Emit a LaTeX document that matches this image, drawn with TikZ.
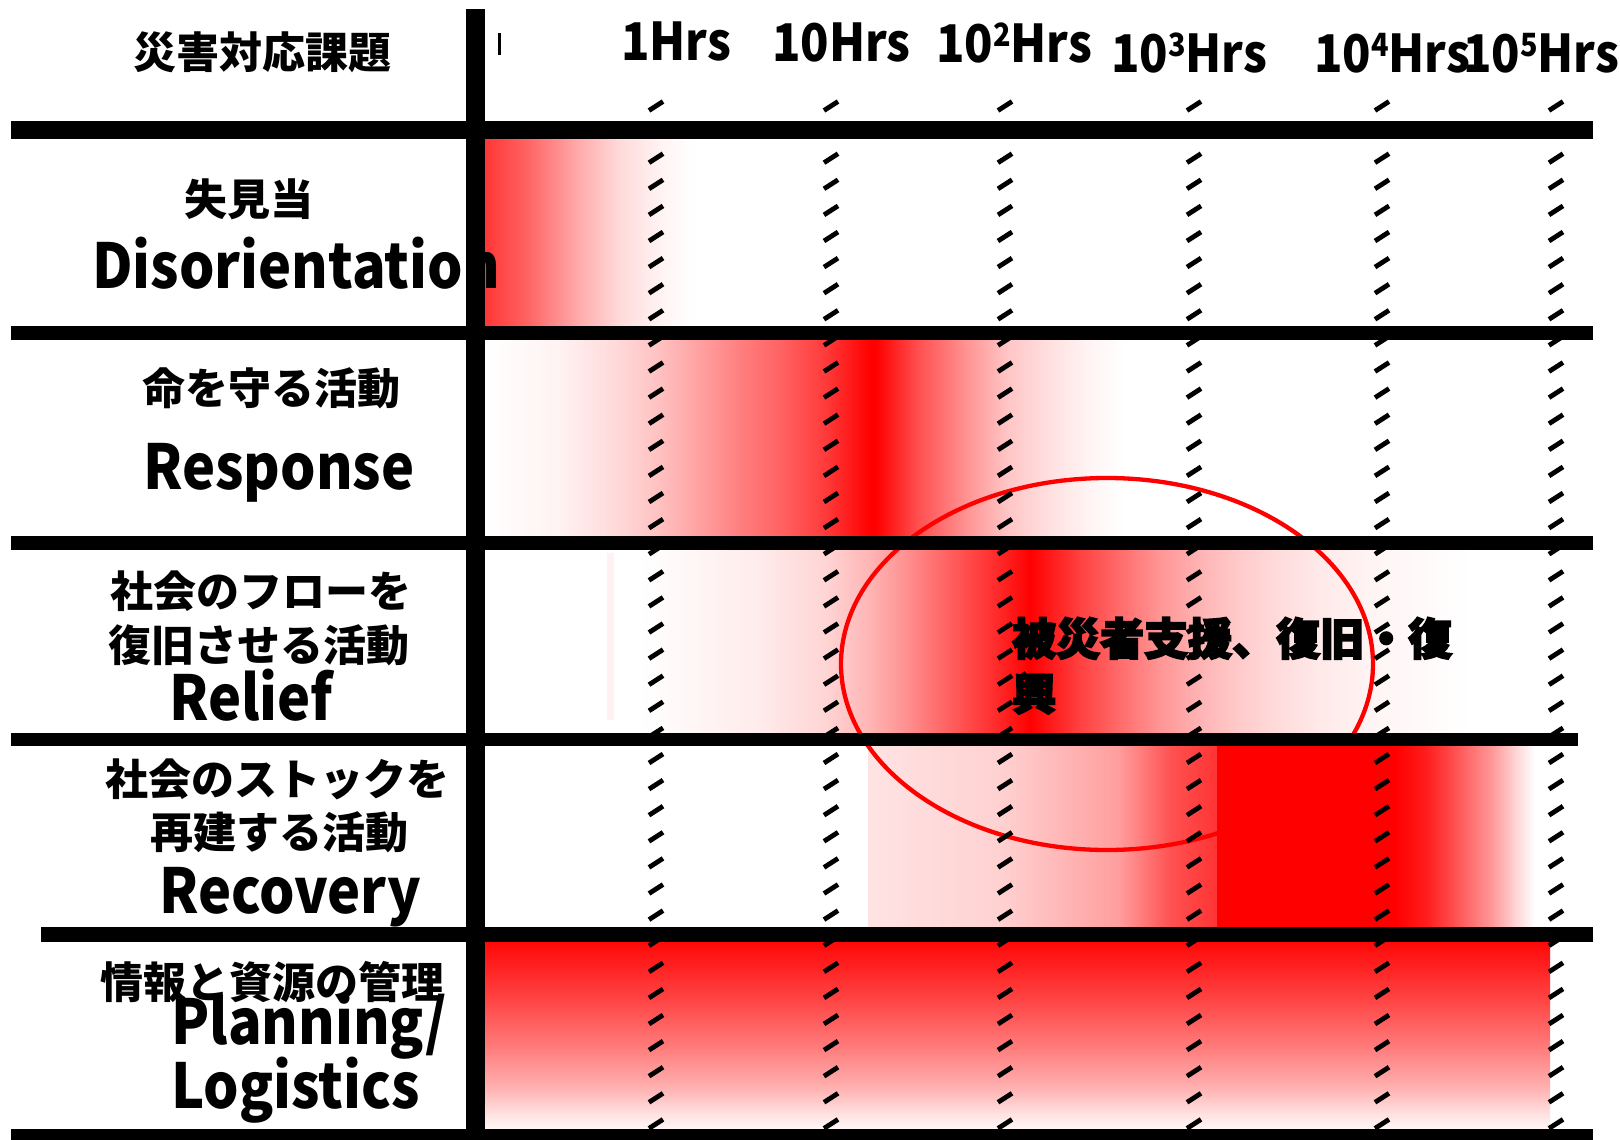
\documentclass[tikz,border=0pt]{standalone}
\usepackage{fontspec}
\setmainfont{Noto Sans CJK JP}
\newfontfamily\enfont{Noto Sans CJK JP}[FakeStretch=0.9]
\newfontfamily\heavyfont{Noto Sans CJK JP}[FakeBold=4]
\newcommand\hsup[1]{\raisebox{16pt}{\fontsize{32}{32}\selectfont #1}}
\begin{document}
\begin{tikzpicture}[x=1pt,y=-1pt,
  barfill/.style={fill=black},
  dashmark/.style={line width=4.8pt},
  jp/.style={inner sep=0pt, font=\bfseries\fontsize{43}{43}\selectfont},
  en/.style={inner sep=0pt, anchor=base west, font=\enfont\bfseries\fontsize{62}{62}\selectfont},
  hrs/.style={inner sep=0pt, anchor=base west, font=\enfont\bfseries\fontsize{52}{52}\selectfont},
  heavy/.style={inner sep=0pt, anchor=base west, font=\heavyfont\bfseries\fontsize{44}{44}\selectfont},
]
\useasboundingbox (0,0) rectangle (1620,1140);
\fill[white] (0,0) rectangle (1620,1140);

% row 1: Disorientation
\foreach \a/\b/\pa/\pb in {475/529/83/60, 529/574/60/35, 574/618/35/15, 618/663/15/4, 663/695/4/0}
  {\shade[left color=red!\pa!white, right color=red!\pb!white] (\a,130) rectangle (\b+0.6,333);}
% row 2: Response
\foreach \a/\b/\pa/\pb in {485/559/0/5, 559/617/5/15, 617/657/15/24, 657/693/24/35, 693/738/35/50, 738/782/50/62, 782/827/62/78, 827/858/78/94, 858/870/94/100, 870/876/100/100, 876/916/100/70, 916/961/70/45, 961/1006/45/23, 1006/1050/23/12, 1050/1090/12/4, 1090/1125/4/0}
  {\shade[left color=red!\pa!white, right color=red!\pb!white] (\a,333) rectangle (\b+0.6,543);}
% row 3: Relief
\fill[red!5] (607,553) rectangle (614,720);
\foreach \a/\b/\pa/\pb in {640/700/0/4, 700/760/4/8, 760/827/8/17, 827/872/17/30, 872/916/30/48, 916/961/48/68, 961/1006/68/88, 1006/1030/88/100, 1030/1079/100/75, 1079/1119/75/58, 1119/1158/58/42, 1158/1198/42/30, 1198/1237/30/21, 1237/1277/21/14, 1277/1316/14/9, 1316/1375/9/4, 1375/1470/4/0}
  {\shade[left color=red!\pa!white, right color=red!\pb!white] (\a,543) rectangle (\b+0.6,740);}
% row 4: Recovery (left part)
\foreach \a/\b/\pa/\pb in {868/1000/11/18, 1000/1118/18/38, 1118/1170/38/68, 1170/1217/68/80}
  {\shade[left color=red!\pa!white, right color=red!\pb!white] (\a,740) rectangle (\b+0.6,934);}
% row 5: Planning / Logistics
\foreach \a/\b/\pa/\pb in {934/1000/100/73, 1000/1050/73/50, 1050/1087/50/31, 1087/1113/31/12, 1113/1135/12/0}
  {\shade[top color=red!\pa!white, bottom color=red!\pb!white] (475,\a) rectangle (1550,\b+0.6);}

% ellipse
\draw[red, line width=4.3pt] (1107,664) ellipse [x radius=266pt, y radius=186pt];

% row 4: Recovery (solid block and fade)
\foreach \a/\b/\pa/\pb in {1217/1395/100/100, 1395/1427/100/88, 1427/1455/88/68, 1455/1494/68/38, 1494/1514/38/18, 1514/1534/18/0}
  {\shade[left color=red!\pa!white, right color=red!\pb!white] (\a,740) rectangle (\b+0.6,934);}

% dashed time lines
\foreach \cx in {656,831,1005,1194,1382,1556}{
  \foreach \k in {0,...,39}{
    \pgfmathsetmacro\cy{106+26.1*\k}
    \draw[dashmark] (\cx-7,\cy+4.5) -- (\cx+7,\cy-4.5);
  }
}

% grid bars
\fill[barfill] (11,121) rectangle (1593,139);
\fill[barfill] (11,326) rectangle (1593,340);
\fill[barfill] (11,536) rectangle (1593,550);
\fill[barfill] (11,733) rectangle (1578,746);
\fill[barfill] (41,927) rectangle (1593,942);
\fill[barfill] (11,1129) rectangle (1593,1140);
\fill[barfill] (466,9) rectangle (485,1140);
\draw[line width=2.5pt] (499.5,33) -- (499.5,55);

% time labels
\node[hrs] (h0) at (621,60) {1Hrs};
\node[hrs] (h1) at (772,62) {10Hrs};
\node[hrs] (h2) at (936,63) {10\hsup{2}Hrs};
\node[hrs] (h3) at (1111,73) {10\hsup{3}Hrs};
\node[hrs] (h4) at (1314,73) {10\hsup{4}Hrs};
\node[hrs] (h5) at (1463,73) {10\hsup{5}Hrs};

% row labels
\node[jp] (hdr) at (262,52) {災害対応課題};
\node[jp] (t1) at (249,199) {失見当};
\node[en] (e1) at (92,288) {Disorientation};
\node[jp] (t2) at (271,388) {命を守る活動};
\node[en] (e2) at (143,489) {Response};
\node[jp] (t3a) at (261,591) {社会のフローを};
\node[jp] (t3b) at (259,645) {復旧させる活動};
\node[en] (e3) at (169,720) {Relief};
\node[jp] (t4a) at (277,779) {社会のストックを};
\node[jp] (t4b) at (279,832) {再建する活動};
\node[en] (e4) at (159,913) {Recovery};
\node[jp] (t5) at (272,982) {情報と資源の管理};
\node[en] (e5a) at (171,1044) {Planning/};
\node[en] (e5b) at (171,1108) {Logistics};

% ellipse text
\node[heavy] (sup1) at (1012,655) {被災者支援、復旧・復};
\node[heavy] (sup2) at (1012,710) {興};
\end{tikzpicture}
\end{document}
